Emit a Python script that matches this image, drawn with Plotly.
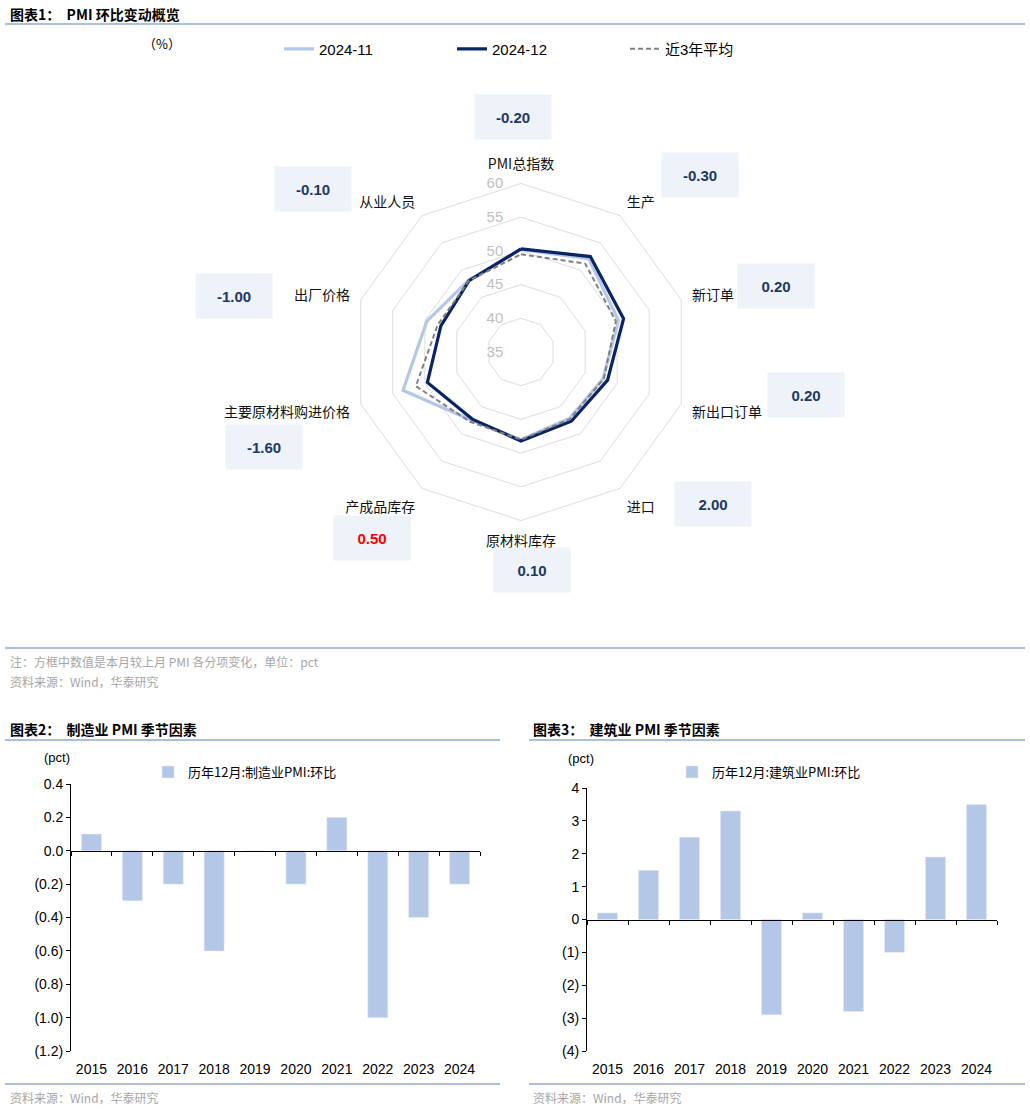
import plotly.graph_objects as go

W, H = 1030, 1109
# the captured picture shows the page slightly squeezed vertically
# (top offset 8px, scale ~0.9856); vertical positions are mapped accordingly
V_OFF, V_SCALE = 8.0, 1093.0 / 1109.0

# ---------------- data ----------------
radar_categories = ["PMI总指数", "生产", "新订单", "新出口订单", "进口", "原材料库存",
                    "产成品库存", "主要原材料购进价格", "出厂价格", "从业人员"]
pmi_2024_11 = [50.2, 52.1, 50.2, 47.8, 47.2, 48.0, 47.5, 53.4, 49.7, 48.2]
pmi_2024_12 = [50.3, 52.5, 51.0, 48.5, 47.7, 48.2, 47.3, 49.6, 47.5, 48.1]
pmi_avg_3y = [49.5, 51.2, 49.8, 47.9, 47.3, 48.0, 47.8, 51.4, 48.0, 48.1]
mom_change_labels = ["-0.20", "-0.30", "0.20", "0.20", "2.00", "0.10", "0.50", "-1.60", "-1.00", "-0.10"]
radial_ticks = [35, 40, 45, 50, 55, 60]

years = ["2015", "2016", "2017", "2018", "2019", "2020", "2021", "2022", "2023", "2024"]
mfg_pmi_dec_mom = [0.1, -0.3, -0.2, -0.6, 0.0, -0.2, 0.2, -1.0, -0.4, -0.2]
con_pmi_dec_mom = [0.2, 1.5, 2.5, 3.3, -2.9, 0.2, -2.8, -1.0, 1.9, 3.5]
mfg_ytick_vals = [0.4, 0.2, 0.0, -0.2, -0.4, -0.6, -0.8, -1.0, -1.2]
mfg_ytick_text = ["0.4", "0.2", "0.0", "(0.2)", "(0.4)", "(0.6)", "(0.8)", "(1.0)", "(1.2)"]
con_ytick_vals = [4, 3, 2, 1, 0, -1, -2, -3, -4]
con_ytick_text = ["4", "3", "2", "1", "0", "(1)", "(2)", "(3)", "(4)"]

# ---------------- helpers ----------------
def px(x):
    return x / W


def doc_y(y):
    return (y - V_OFF) / V_SCALE


def py(y):
    return 1 - doc_y(y) / H


FONT_CJK = "Noto Sans CJK SC"
FONT_NUM = "Liberation Sans, Arial, Noto Sans CJK SC"
LIGHT = "#B4C7E7"
DARK = "#0B2463"
AVG = "#808080"
BAR = "#B4C7E7"
RULE = "#8FAACB"
NOTE = "#A6A6A6"

fig = go.Figure()


def closed(v):
    return list(v) + [v[0]]


theta = closed(radar_categories)
fig.add_trace(go.Scatterpolar(r=closed(pmi_2024_11), theta=theta, mode="lines", name="2024-11",
                              line=dict(color=LIGHT, width=3.2), legend="legend"))
fig.add_trace(go.Scatterpolar(r=closed(pmi_2024_12), theta=theta, mode="lines", name="2024-12",
                              line=dict(color=DARK, width=3.2), legend="legend"))
fig.add_trace(go.Scatterpolar(r=closed(pmi_avg_3y), theta=theta, mode="lines", name="近3年平均",
                              line=dict(color=AVG, width=2, dash="5px,3px"), legend="legend"))

# bar charts
fig.add_trace(go.Bar(x=years, y=mfg_pmi_dec_mom, name="历年12月:制造业PMI:环比", marker_color=BAR,
                     xaxis="x2", yaxis="y2", legend="legend2"))
fig.add_trace(go.Scatter(x=years, y=mfg_pmi_dec_mom, mode="none", xaxis="x4", yaxis="y2",
                         showlegend=False, hoverinfo="skip"))
fig.add_trace(go.Bar(x=years, y=con_pmi_dec_mom, name="历年12月:建筑业PMI:环比", marker_color=BAR,
                     xaxis="x3", yaxis="y3", legend="legend3"))
fig.add_trace(go.Scatter(x=years, y=con_pmi_dec_mom, mode="none", xaxis="x5", yaxis="y3",
                         showlegend=False, hoverinfo="skip"))

# ---------------- layout ----------------
cx, cy, R = 521, 352, 171
cyd = doc_y(cy)
polar = dict(
    domain=dict(x=[px(cx - R), px(cx + R)], y=[1 - (cyd + R) / H, 1 - (cyd - R) / H]),
    bgcolor="white",
    gridshape="linear",
    radialaxis=dict(range=[radial_ticks[0], radial_ticks[-1]], tickvals=radial_ticks,
                    showline=False, ticks="outside", ticklen=12, tickcolor="rgba(0,0,0,0)",
                    angle=90, side="counterclockwise", tickangle=90,
                    gridcolor="#DDDDDD", gridwidth=1,
                    tickfont=dict(family=FONT_NUM, size=15, color="#BFBFBF")),
    angularaxis=dict(rotation=90, direction="clockwise", showgrid=False,
                     showline=True, linecolor="#DDDDDD", linewidth=1,
                     ticks="outside", ticklen=8, tickcolor="rgba(0,0,0,0)",
                     tickfont=dict(family=FONT_CJK, size=14, color="#111111")),
)

b2x = [71, 480]
b2y = [784, 1051]
b3x = [587, 997]
b3y = [788, 1051]
mfg_range = [mfg_ytick_vals[-1], mfg_ytick_vals[0]]
con_range = [con_ytick_vals[-1], con_ytick_vals[0]]


def zero_pos(ydom, rng):
    return ydom[0] + (0 - rng[0]) / (rng[1] - rng[0]) * (ydom[1] - ydom[0])


y2dom = [py(b2y[1]), py(b2y[0])]
y3dom = [py(b3y[1]), py(b3y[0])]

xbase = dict(type="category", range=[-0.5, 9.5], showgrid=False, zeroline=False)

layout = dict(
    width=W, height=H, margin=dict(l=0, r=0, t=0, b=0),
    paper_bgcolor="white", plot_bgcolor="white",
    polar=polar,
    barmode="group", bargap=0.51,
    font=dict(family=FONT_NUM, color="#000000"),
    xaxis2=dict(xbase, domain=[px(b2x[0]), px(b2x[1])], anchor="y2", showline=False,
                ticks="outside", ticklen=5, tickcolor="rgba(0,0,0,0)",
                tickfont=dict(family=FONT_NUM, size=14, color="#000")),
    yaxis2=dict(domain=y2dom, anchor="x2", range=mfg_range, tickvals=mfg_ytick_vals,
                ticktext=mfg_ytick_text, showline=True, linecolor="#000", linewidth=1,
                ticks="outside", ticklen=4, tickcolor="#000", showgrid=False, zeroline=False,
                tickfont=dict(family=FONT_NUM, size=14, color="#000")),
    xaxis4=dict(xbase, matches="x2", overlaying="x2", anchor="free",
                position=zero_pos(y2dom, mfg_range), showline=True, linecolor="#000",
                linewidth=1, ticks="outside", tickson="boundaries", ticklen=4,
                tickcolor="#000", showticklabels=False),
    xaxis3=dict(xbase, domain=[px(b3x[0]), px(b3x[1])], anchor="y3", showline=False,
                ticks="outside", ticklen=5, tickcolor="rgba(0,0,0,0)",
                tickfont=dict(family=FONT_NUM, size=14, color="#000")),
    yaxis3=dict(domain=y3dom, anchor="x3", range=con_range, tickvals=con_ytick_vals,
                ticktext=con_ytick_text, showline=True, linecolor="#000", linewidth=1,
                ticks="outside", ticklen=4, tickcolor="#000", showgrid=False, zeroline=False,
                tickfont=dict(family=FONT_NUM, size=14, color="#000")),
    xaxis5=dict(xbase, matches="x3", overlaying="x3", anchor="free",
                position=zero_pos(y3dom, con_range), showline=True, linecolor="#000",
                linewidth=1, ticks="outside", tickson="boundaries", ticklen=4,
                tickcolor="#000", showticklabels=False),
    legend=dict(orientation="h", x=px(279), y=py(32.6), xanchor="left", yanchor="top",
                entrywidth=128, entrywidthmode="pixels", bgcolor="rgba(0,0,0,0)",
                font=dict(family=FONT_NUM, size=15, color="#000")),
    legend2=dict(orientation="h", x=px(148), y=py(757), xanchor="left", yanchor="top",
                 bgcolor="rgba(0,0,0,0)", font=dict(family=FONT_CJK, size=13, color="#000")),
    legend3=dict(orientation="h", x=px(672), y=py(757), xanchor="left", yanchor="top",
                 bgcolor="rgba(0,0,0,0)", font=dict(family=FONT_CJK, size=13, color="#000")),
    showlegend=True,
)
fig.update_layout(**layout)

# ---------------- decorative text / rules ----------------
shapes = []
for (x0, x1, y) in [(5, 1025, 24), (5, 1025, 648), (5, 500, 740), (529, 1025, 740),
                    (5, 500, 1084), (529, 1025, 1084)]:
    shapes.append(dict(type="line", xref="paper", yref="paper", x0=px(x0), x1=px(x1),
                       y0=py(y), y1=py(y), line=dict(color=RULE, width=1.5)))
fig.update_layout(shapes=shapes)


def text(x, y, s, size=13, color="#000", bold=False, xanchor="left", family=FONT_CJK):
    fig.add_annotation(x=px(x), y=py(y), xref="paper", yref="paper", text=(f"<b>{s}</b>" if bold else s),
                       showarrow=False, xanchor=xanchor, yanchor="middle",
                       font=dict(family=family, size=size, color=color))


text(8, 14, "图表1：  PMI 环比变动概览", size=14, bold=True)
text(162, 43, "（%）", size=13, xanchor="center")
text(8, 661, "注：方框中数值是本月较上月 PMI 各分项变化，单位：pct", size=12, color=NOTE)
text(8, 681, "资料来源：Wind，华泰研究", size=12, color=NOTE)
text(8, 729, "图表2：  制造业 PMI 季节因素", size=14, bold=True)
text(531, 729, "图表3：  建筑业 PMI 季节因素", size=14, bold=True)
text(8, 1097, "资料来源：Wind，华泰研究", size=12, color=NOTE)
text(531, 1097, "资料来源：Wind，华泰研究", size=12, color=NOTE)
text(57, 757, "(pct)", size=13, xanchor="center", family=FONT_NUM)
text(581, 758, "(pct)", size=13, xanchor="center", family=FONT_NUM)

# change boxes around radar (pixel centres of each box)
box_centers = [(513, 117), (700, 175), (776, 286), (806, 395), (713, 504),
               (532, 570), (372, 538), (264, 447), (234, 296), (313, 189)]
for (bx, by), lab in zip(box_centers, mom_change_labels):
    col = "#FF0000" if lab == "0.50" else "#1F3864"
    fig.add_annotation(x=px(bx), y=py(by), xref="paper", yref="paper", text=f"<b>{lab}</b>",
                       showarrow=False, xanchor="center", yanchor="middle", width=76, height=44,
                       bgcolor="#EEF3F9", borderpad=0,
                       font=dict(family="Liberation Sans, Arial", size=15, color=col))

fig.write_html("out.html", config={"displayModeBar": False},
               post_script="document.body.style.margin='0';document.body.style.overflow='hidden';")
